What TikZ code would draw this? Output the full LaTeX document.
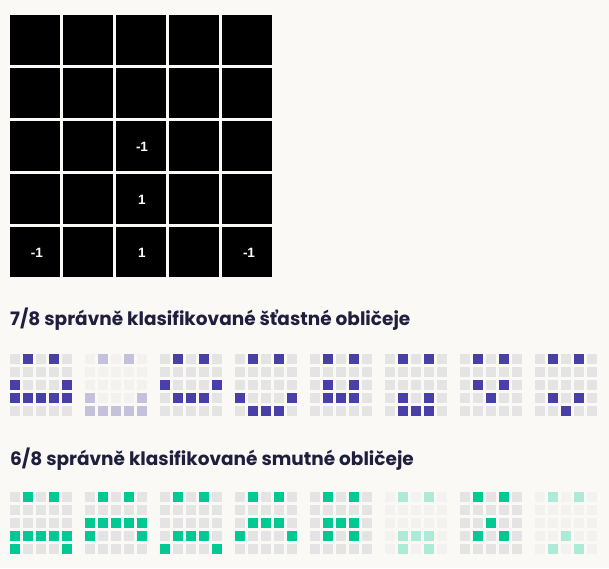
\documentclass[tikz,border=0pt]{standalone}
\usepackage{fontspec}
\setmainfont{Poppins}
\newfontfamily\labelfont{Liberation Sans}
\usepackage{tikz}
\usetikzlibrary{positioning}
\definecolor{pagebg}{HTML}{FAF9F6}
\definecolor{facepurple}{HTML}{4840A6}
\definecolor{facegreen}{HTML}{00C994}
\definecolor{cellgray}{HTML}{E4E4E4}
\definecolor{titlenavy}{HTML}{1F1E3D}

\begin{document}
\begin{tikzpicture}[x=1pt, y=-1pt,
    weightlabel/.style={font=\labelfont\bfseries\fontsize{13.5}{14}\selectfont, color=white},
    facetitle/.style={font=\bfseries\fontsize{18.5}{20}\selectfont, color=titlenavy, anchor=base west, inner sep=0pt}]
    % Page background
    \fill[pagebg] (0,0) rectangle (609,568);

    % 5x5 weight grid
    \foreach \row in {0,...,4} {
        \foreach \col in {0,...,4} {
            \fill[black] (10+\col*53, 15+\row*53) rectangle ++(50,50);
        }
    }

    % Non-zero weights
    \node[weightlabel] (w22) at (142,147) {-1};
    \node[weightlabel] (w32) at (142,200) {1};
    \node[weightlabel] (w40) at (37,253) {-1};
    \node[weightlabel] (w42) at (142,253) {1};
    \node[weightlabel] (w44) at (249,253) {-1};

    % Happy faces
    \node[facetitle] (happytitle) at (10,325) {7/8 správně klasifikované šťastné obličeje};
    \foreach \fade/\pat [count=\f from 0] in {
        0/{0,1,0,1,0, 0,0,0,0,0, 1,0,0,0,1, 1,1,1,1,1, 0,0,0,0,0},
        1/{0,1,0,1,0, 0,0,0,0,0, 0,0,0,0,0, 1,0,0,0,1, 1,1,1,1,1},
        0/{0,1,0,1,0, 0,0,0,0,0, 1,0,0,0,1, 0,1,1,1,0, 0,0,0,0,0},
        0/{0,1,0,1,0, 0,0,0,0,0, 0,0,0,0,0, 1,0,0,0,1, 0,1,1,1,0},
        0/{0,1,0,1,0, 0,0,0,0,0, 0,1,0,1,0, 0,1,1,1,0, 0,0,0,0,0},
        0/{0,1,0,1,0, 0,0,0,0,0, 0,0,0,0,0, 0,1,0,1,0, 0,1,1,1,0},
        0/{0,1,0,1,0, 0,0,0,0,0, 0,1,0,1,0, 0,0,1,0,0, 0,0,0,0,0},
        0/{0,1,0,1,0, 0,0,0,0,0, 0,0,0,0,0, 0,1,0,1,0, 0,0,1,0,0}} {
        \pgfmathsetmacro{\op}{\fade==1 ? 0.3 : 1}
        \foreach \v [count=\k from 0] in \pat {
            \pgfmathtruncatemacro{\c}{mod(\k,5)}
            \pgfmathtruncatemacro{\r}{div(\k,5)}
            \ifnum\v=1
                \fill[facepurple, opacity=\op] (10+\f*75+\c*13, 354+\r*13) rectangle ++(10,10);
            \else
                \fill[cellgray, opacity=\op] (10+\f*75+\c*13, 354+\r*13) rectangle ++(10,10);
            \fi
        }
    }

    % Sad faces
    \node[facetitle] (sadtitle) at (10,465) {6/8 správně klasifikované smutné obličeje};
    \foreach \fade/\pat [count=\f from 0] in {
        0/{0,1,0,1,0, 0,0,0,0,0, 0,0,0,0,0, 1,1,1,1,1, 1,0,0,0,1},
        0/{0,1,0,1,0, 0,0,0,0,0, 1,1,1,1,1, 1,0,0,0,1, 0,0,0,0,0},
        0/{0,1,0,1,0, 0,0,0,0,0, 0,0,0,0,0, 0,1,1,1,0, 1,0,0,0,1},
        0/{0,1,0,1,0, 0,0,0,0,0, 0,1,1,1,0, 1,0,0,0,1, 0,0,0,0,0},
        0/{0,1,0,1,0, 0,0,0,0,0, 0,1,1,1,0, 0,1,0,1,0, 0,0,0,0,0},
        1/{0,1,0,1,0, 0,0,0,0,0, 0,0,0,0,0, 0,1,1,1,0, 0,1,0,1,0},
        0/{0,1,0,1,0, 0,0,0,0,0, 0,0,1,0,0, 0,1,0,1,0, 0,0,0,0,0},
        1/{0,1,0,1,0, 0,0,0,0,0, 0,0,0,0,0, 0,0,1,0,0, 0,1,0,1,0}} {
        \pgfmathsetmacro{\op}{\fade==1 ? 0.3 : 1}
        \foreach \v [count=\k from 0] in \pat {
            \pgfmathtruncatemacro{\c}{mod(\k,5)}
            \pgfmathtruncatemacro{\r}{div(\k,5)}
            \ifnum\v=1
                \fill[facegreen, opacity=\op] (10+\f*75+\c*13, 492+\r*13) rectangle ++(10,10);
            \else
                \fill[cellgray, opacity=\op] (10+\f*75+\c*13, 492+\r*13) rectangle ++(10,10);
            \fi
        }
    }
\end{tikzpicture}
\end{document}
